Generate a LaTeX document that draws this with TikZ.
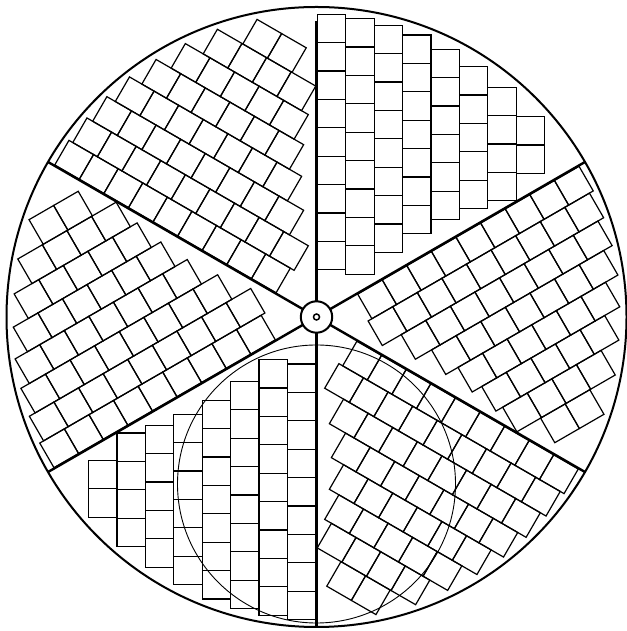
\documentclass[tikz,border=0pt]{standalone}
\begin{document}
\begin{tikzpicture}[x=1pt,y=1pt,
  sq/.style={line width=1.2pt},
  divline/.style={line width=2.4pt},
  rim/.style={line width=2pt},
  thinring/.style={line width=0.9pt}]
\useasboundingbox (0,0) rectangle (626,631);
\begin{scope}[shift={(316.5,314)}]
  % square arrays, one per 60-degree sector
  \foreach \r in {0,60,...,300} {
    \begin{scope}[rotate=\r]
      \foreach \tp/\n [count=\i from 0] in {302.7/9, 298.3/9, 291.7/8, 282/7, 267.7/6, 250.3/5, 229.7/4, 200.3/2} {
        \foreach \k in {1,...,\n} {
          \draw[sq] ({0.8+28.4*\i},{\tp-28.4*\k}) rectangle ++(28.4,28.4);
        }
      }
    \end{scope}
  }
  % outer rim
  \draw[rim] (0,0) circle (310);
  % dividers
  \foreach \a in {30,-30,-90,210,150} {
    \draw[divline] (\a:15.7) -- (\a:310);
  }
  \draw[divline] (90:15.7) -- (90:295.5);
  % hub
  \draw[rim,fill=white] (0,0) circle (15.7);
  \draw[line width=1.5pt] (0,0) circle (3);
  % thin inner circle
  \draw[thinring] (0,-167) circle (139);
\end{scope}
\end{tikzpicture}
\end{document}
